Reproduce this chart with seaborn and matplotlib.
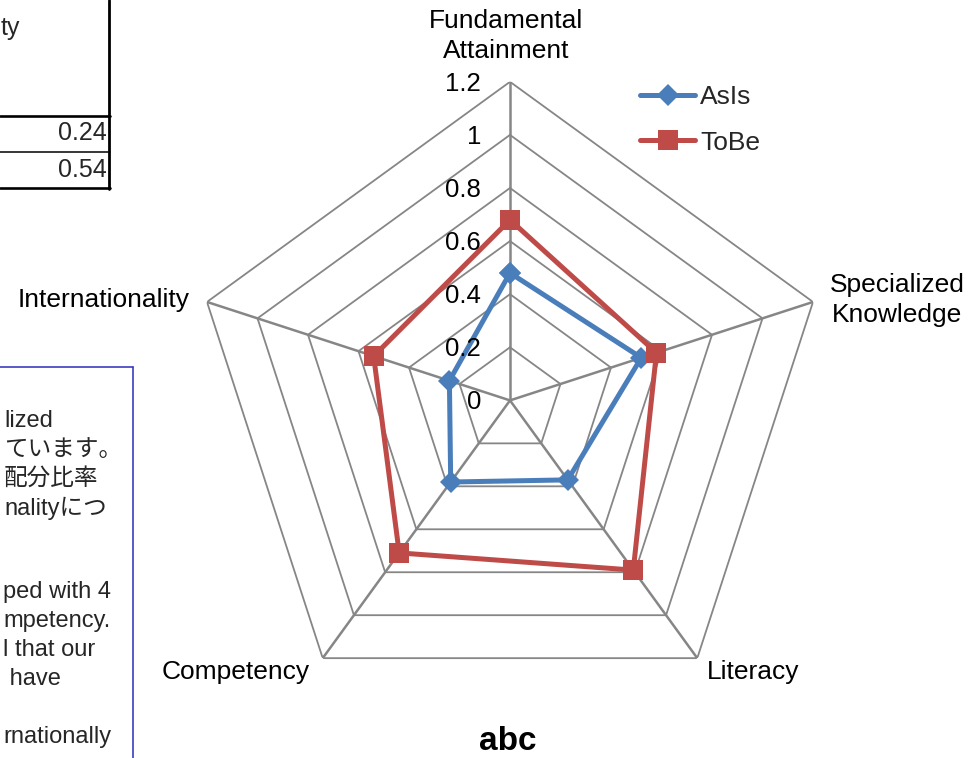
import numpy as np
import pandas as pd
import matplotlib
matplotlib.use("Agg")
import matplotlib.pyplot as plt
import matplotlib.transforms as mtransforms
from matplotlib.lines import Line2D
import seaborn as sns

# ---- data -------------------------------------------------------------
categories = ["Fundamental\nAttainment", "Specialized\nKnowledge", "Literacy",
              "Competency", "Internationality"]
asis_values = [0.48, 0.52, 0.37, 0.38, 0.24]
tobe_values = [0.68, 0.58, 0.79, 0.71, 0.54]
series_names = ["AsIs", "ToBe"]
r_ticks = [0, 0.2, 0.4, 0.6, 0.8, 1.0, 1.2]
r_tick_labels = ["0", "0.2", "0.4", "0.6", "0.8", "1", "1.2"]
table_header = "ty"
table_values = ["0.24", "0.54"]
note_lines_top = ["lized", "ています。", "配分比率", "nalityにつ"]
note_lines_bottom = ["ped with 4", "mpetency.", "l that our", " have"]
note_line_last = "rnationally"
chart_title = "abc"

# ---- style ------------------------------------------------------------
sns.set_theme(style="white")
plt.rcParams["font.family"] = ["Liberation Sans", "Noto Sans CJK JP", "DejaVu Sans"]

W, H = 974, 758
fig = plt.figure(figsize=(W / 100, H / 100), dpi=100)
fig.patch.set_facecolor("white")

def fx(px):
    return px / W

def fy(py):
    return 1 - py / H

GRID = "#868686"
COL_ASIS = "#4A7EBB"
COL_TOBE = "#BE4B48"
FS = 19

# ---- radar axes -------------------------------------------------------
cx, cy, R = 510, 400.4, 318.6
ax = fig.add_axes([(cx - R) / W, (H - cy - R) / H, 2 * R / W, 2 * R / H],
                  projection="polar")
ax.set_theta_zero_location("N")
ax.set_theta_direction(-1)
ax.set_ylim(0, r_ticks[-1])
ax.grid(False)
ax.spines["polar"].set_visible(False)
ax.set_xticks([])
ax.set_yticks([])
ax.patch.set_alpha(0)

n = len(categories)
theta = np.linspace(0, 2 * np.pi, n, endpoint=False)
theta_closed = np.append(theta, theta[0])

# pentagonal rings and spokes
for r in r_ticks[1:]:
    ax.plot(theta_closed, [r] * (n + 1), color=GRID, lw=1.3, zorder=1)
for t in theta:
    ax.plot([t, t], [0, r_ticks[-1]], color=GRID, lw=1.8, zorder=1)

# radial value labels beside the top spoke
lab_tr = mtransforms.offset_copy(ax.transData, fig=fig, x=-29, y=-2, units="dots")
for r, lab in zip(r_ticks, r_tick_labels):
    ax.text(0, r, lab, transform=lab_tr, ha="right", va="center",
            fontsize=18.5, color="black", zorder=5)

# series
def series_frame(name, values):
    return pd.DataFrame({"theta": theta_closed,
                         "value": list(values) + [values[0]],
                         "series": name})

df_asis = series_frame("AsIs", asis_values)
df_tobe = series_frame("ToBe", tobe_values)

sns.lineplot(data=df_asis, x="theta", y="value", sort=False, estimator=None,
             color=COL_ASIS, lw=3.6, marker="D", markersize=11.5,
             markeredgewidth=0, ax=ax, zorder=3, legend=False)
sns.lineplot(data=df_tobe, x="theta", y="value", sort=False, estimator=None,
             color=COL_TOBE, lw=3.6, marker="s", markersize=15,
             markeredgewidth=0, ax=ax, zorder=4, legend=False)
ax.set_xlabel("")
ax.set_ylabel("")

# category labels
label_pos = [(506, 36, "center"), (897, 300, "center"), (753, 672, "center"),
             (236, 672, "center"), (190, 300, "right")]
for name, (x, y, ha) in zip(categories, label_pos):
    fig.text(fx(x), fy(y), name, ha=ha, va="center", fontsize=FS,
             linespacing=1.28, color="black")

# legend
handles = [Line2D([], [], color=COL_ASIS, lw=3.6, marker="D", markersize=11.5,
                  markeredgewidth=0),
           Line2D([], [], color=COL_TOBE, lw=3.6, marker="s", markersize=15,
                  markeredgewidth=0)]
fig.legend(handles, series_names, loc="upper left",
           bbox_to_anchor=(fx(640), fy(85)), frameon=False, fontsize=FS,
           handlelength=2.1, handletextpad=0.18, labelspacing=0.82,
           borderaxespad=0, borderpad=0)

fig.text(fx(508), fy(742), chart_title, ha="center", va="center",
         fontsize=24, fontweight="bold", color="black")

# ---- neighbouring worksheet cells (top-left) --------------------------
def hline(y, x0, x1, lw, color="black"):
    fig.add_artist(Line2D([fx(x0), fx(x1)], [fy(y), fy(y)], color=color,
                          lw=lw, transform=fig.transFigure))

def vline(x, y0, y1, lw, color="black"):
    fig.add_artist(Line2D([fx(x), fx(x)], [fy(y0), fy(y1)], color=color,
                          lw=lw, transform=fig.transFigure))

vline(109, 0, 189, 2.0)
hline(116, 0, 110, 1.9)
hline(152, 0, 110, 1.1)
hline(188, 0, 110, 1.9)
fig.text(fx(1), fy(28), table_header, ha="left", va="center", fontsize=18)
fig.text(fx(107), fy(133), table_values[0], ha="right", va="center", fontsize=18)
fig.text(fx(107), fy(170), table_values[1], ha="right", va="center", fontsize=18)

# ---- neighbouring text box (left) -------------------------------------
BOX = "#3C3CC0"
NOTE_FS = 17
PITCH = 29
hline(367, 0, 133, 1.2, BOX)
vline(133, 367, H + 2, 1.2, BOX)
for i, line in enumerate(note_lines_top):
    fig.text(fx(4), fy(421 + PITCH * i), line, ha="left", va="center",
             fontsize=NOTE_FS)
for i, line in enumerate(note_lines_bottom):
    fig.text(fx(3), fy(592 + PITCH * i), line, ha="left", va="center",
             fontsize=NOTE_FS)
fig.text(fx(3), fy(737), note_line_last, ha="left", va="center", fontsize=NOTE_FS)

fig.savefig("out.png", dpi=100, facecolor="white")
